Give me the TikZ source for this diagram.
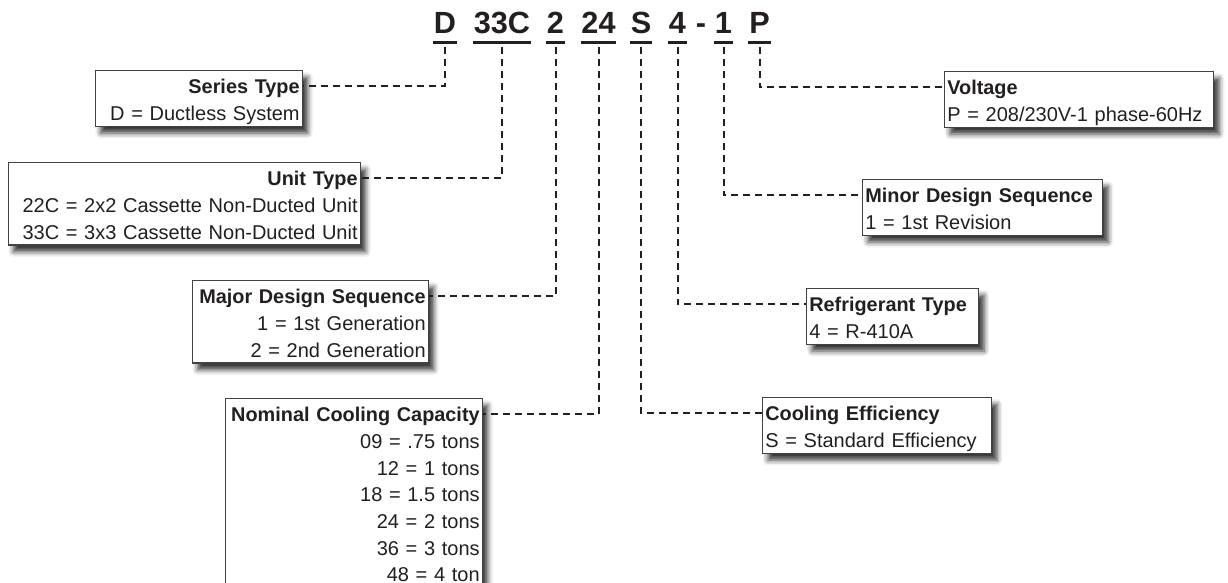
\documentclass[tikz,border=0pt]{standalone}
\usepackage{fontspec}
\setmainfont{Liberation Sans}
\usetikzlibrary{shadows.blur}
\definecolor{ink}{HTML}{231F20}
\newcommand{\hd}[1]{{\fontsize{14.9}{20}\selectfont\bfseries #1}}

\begin{document}
\begin{tikzpicture}[x=0.75pt, y=-0.75pt,
  every node/.style={text=ink},
  code/.style={font=\fontsize{23}{25}\selectfont\bfseries, anchor=base, inner xsep=0.5pt, inner ysep=6.75pt},
  uline/.style={draw=ink, line width=2.2pt},
  box/.style={draw=ink!85, line width=1pt, fill=white, inner xsep=2pt, inner ysep=0pt,
    font=\fontsize{15}{20}\selectfont,
    execute at begin node={\rule{0pt}{17.25pt}},
    execute at end node={\rule[-4.5pt]{0pt}{4.5pt}},
    blur shadow={shadow xshift=4pt, shadow yshift=-5pt, shadow blur radius=4pt, shadow opacity=80}},
  lbox/.style={box, anchor=north east, align=right, text width=#1},
  rbox/.style={box, anchor=north west, align=left, text width=#1},
  lead/.style={draw=ink, line width=1.5pt, dash pattern=on 5.25pt off 3.75pt, shorten <=3.5pt}]

  \useasboundingbox (0,0) rectangle (1228,582);

  % model number
  \node (cSer)  at (445,33)   [code] {D};
  \node (cUnit) at (502,33)   [code] {33C};
  \node (cMaj)  at (555.5,33) [code] {2};
  \node (cCap)  at (598.5,33) [code] {24};
  \node (cEff)  at (641,33)   [code] {S};
  \node (cRef)  at (677.5,33) [code] {4};
  \node (cDash) at (701,33)   [code] {-};
  \node (cMin)  at (723.5,33) [code] {1};
  \node (cVol)  at (759.5,33) [code] {P};

  \foreach \n in {cSer,cUnit,cMaj,cCap,cEff,cRef,cMin,cVol}
    \draw [uline] (\n.south west) -- (\n.south east);

  % left boxes
  \node (ser)  at (303,70)  [lbox=151.25pt] {\hd{Series Type}\\D = Ductless System};
  \node (unit) at (361,162) [lbox=260pt] {\hd{Unit Type}\\22C = 2x2 Cassette Non-Ducted Unit\\33C = 3x3 Cassette Non-Ducted Unit};
  \node (maj)  at (429,280) [lbox=173pt] {\hd{Major Design Sequence}\\1 = 1st Generation\\2 = 2nd Generation};
  \node (cap)  at (483,398) [lbox=188.75pt] {\hd{Nominal Cooling Capacity}\\09 = .75 tons\\12 = 1 tons\\18 = 1.5 tons\\24 = 2 tons\\36 = 3 tons\\48 = 4 ton};

  % right boxes
  \node (vol) at (944,71)  [rbox=197.75pt] {\hd{Voltage}\\P = 208/230V-1 phase-60Hz};
  \node (min) at (862,179) [rbox=176pt] {\hd{Minor Design Sequence}\\1 = 1st Revision};
  \node (ref) at (806,288) [rbox=125pt] {\hd{Refrigerant Type}\\4 = R-410A};
  \node (eff) at (762,397) [rbox=167.75pt] {\hd{Cooling Efficiency}\\S = Standard Efficiency};

  \draw [lead] (cSer.south)  |- ([yshift=-12pt]ser.north east);
  \draw [lead] (cUnit.south) |- ([yshift=-12pt]unit.north east);
  \draw [lead] (cMaj.south)  |- ([yshift=-12pt]maj.north east);
  \draw [lead] (cCap.south)  |- ([yshift=-12pt]cap.north east);
  \draw [lead] (cEff.south)  |- ([yshift=-12pt]eff.north west);
  \draw [lead] (cRef.south)  |- ([yshift=-12pt]ref.north west);
  \draw [lead] (cMin.south)  |- ([yshift=-12pt]min.north west);
  \draw [lead] (cVol.south)  |- ([yshift=-12pt]vol.north west);
\end{tikzpicture}
\end{document}
